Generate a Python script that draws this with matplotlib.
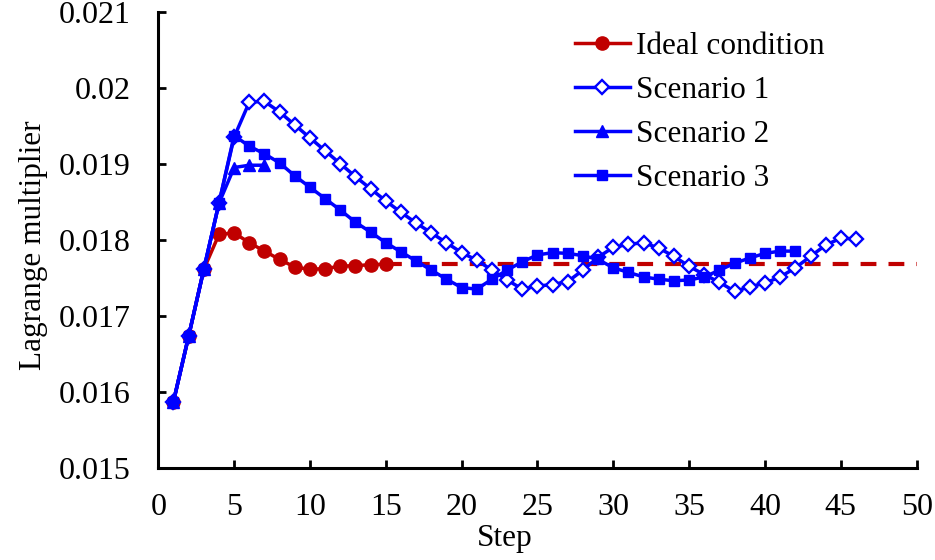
import matplotlib.pyplot as plt
from matplotlib.ticker import FuncFormatter, MultipleLocator

plt.rcParams["font.family"] = ["Liberation Serif", "DejaVu Serif"]
plt.rcParams["font.size"] = 22.5

RED = "#C00000"
BLUE = "#0000FF"

ideal = [0.01587, 0.01673, 0.01761, 0.01807, 0.01809, 0.01796, 0.01785, 0.01774,
         0.01764, 0.01761, 0.01762, 0.01765, 0.01766, 0.01767, 0.01768]
ideal_steady = 0.01768
steady_span = [15, 50]

scenario1 = [0.01587, 0.01673, 0.01761, 0.01848, 0.01935, 0.01981, 0.01982, 0.01968,
             0.01951, 0.01934, 0.01917, 0.01900, 0.01883, 0.01867, 0.01851, 0.01836,
             0.01822, 0.01809, 0.01796, 0.01783, 0.01773, 0.01760, 0.01747, 0.01735,
             0.01739, 0.01741, 0.01745, 0.01760, 0.01777, 0.01790, 0.01794, 0.01796,
             0.01789, 0.01778, 0.01765, 0.01754, 0.01744, 0.01732, 0.01738, 0.01743,
             0.01751, 0.01763, 0.01778, 0.01793, 0.01802, 0.01801]

scenario2 = [0.01587, 0.01673, 0.01761, 0.01848, 0.01895, 0.01898, 0.01898]

scenario3 = [0.01587, 0.01673, 0.01761, 0.01848, 0.01937, 0.01923, 0.01913, 0.01901,
             0.01884, 0.01869, 0.01854, 0.01839, 0.01823, 0.01810, 0.01796, 0.01784,
             0.01772, 0.01760, 0.01748, 0.01737, 0.01735, 0.01748, 0.01760, 0.01771,
             0.01780, 0.01783, 0.01782, 0.01779, 0.01774, 0.01763, 0.01757, 0.01751,
             0.01748, 0.01746, 0.01747, 0.01751, 0.01760, 0.01769, 0.01776, 0.01782,
             0.01785, 0.01785]


def steps(values):
    return list(range(1, len(values) + 1))


fig = plt.figure(figsize=(9.35, 5.6), dpi=100)
ax = fig.add_axes([0.1693, 0.1648, 0.8111, 0.8143])

lw = 2.5
ax.plot(steady_span, [ideal_steady, ideal_steady], color=RED, linewidth=3.0,
        linestyle=(0, (3.8, 2.9)))
ax.plot(steps(ideal), ideal, color=RED, linewidth=lw, marker="o", markersize=9.5,
        label="Ideal condition")
ax.plot(steps(scenario1), scenario1, color=BLUE, linewidth=lw, marker="D", markersize=7,
        markerfacecolor="white", markeredgewidth=1.7, label="Scenario 1")
ax.plot(steps(scenario2), scenario2, color=BLUE, linewidth=lw, marker="^", markersize=9,
        label="Scenario 2")
ax.plot(steps(scenario3), scenario3, color=BLUE, linewidth=lw, marker="s", markersize=7.2,
        label="Scenario 3")

ax.set_xlim(0, 50)
ax.set_ylim(0.015, 0.021)
ax.xaxis.set_major_locator(MultipleLocator(5))
ax.yaxis.set_major_locator(MultipleLocator(0.001))
ax.yaxis.set_major_formatter(FuncFormatter(lambda v, _: f"{v:g}"))

for side in ("top", "right"):
    ax.spines[side].set_visible(False)
for side in ("left", "bottom"):
    ax.spines[side].set_linewidth(2.2)
ax.tick_params(direction="in", length=6, width=2.0, labelsize=23)
ax.tick_params(axis="x", pad=18)
ax.tick_params(axis="y", pad=20)

ax.set_xlabel("Step", labelpad=2, x=0.457)
ax.set_ylabel("Lagrange multiplier", labelpad=8, y=0.487)

ax.legend(loc="upper left", bbox_to_anchor=(0.615, 0.943), bbox_transform=fig.transFigure,
          frameon=False, borderpad=0, borderaxespad=0, handlelength=1.75,
          handletextpad=0.2, labelspacing=0.48, fontsize=22.5)

fig.savefig("out.png", dpi=100)
